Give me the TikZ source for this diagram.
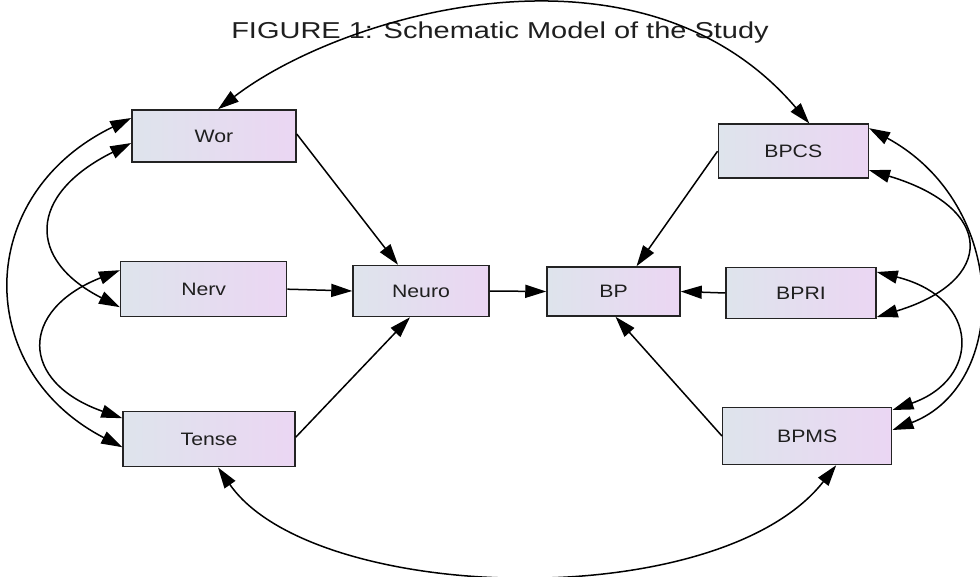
\documentclass[tikz,border=0pt]{standalone}
\usepackage{fontspec}
\setmainfont{Liberation Sans}
\usepackage{graphicx}
\usetikzlibrary{arrows.meta}
\definecolor{boxl}{RGB}{222,228,236}
\definecolor{boxr}{RGB}{235,214,243}
\definecolor{boxline}{RGB}{35,35,35}
\begin{document}
\begin{tikzpicture}[x=1pt,y=-1pt,
  varbox/.style={draw=boxline, line width=1.5pt, left color=boxl, right color=boxr,
    inner sep=0pt, font=\fontsize{18}{18}\selectfont, text=black!88},
  conn/.style={line width=1.5pt, -{Triangle[length=21pt,width=13pt]}},
  biconn/.style={line width=1.5pt, {Triangle[length=21pt,width=13pt]}-{Triangle[length=21pt,width=13pt]}}]
\useasboundingbox (0,0) rectangle (980,577);
\fill[white] (0,0) rectangle (980,577);

% title
\node[font=\fontsize{23}{23}\selectfont, text=black!88] (title) at (500,33) {\scalebox{1.26}[1]{FIGURE 1: Schematic Model of the Study}};

% variables
\node[varbox, minimum width=164pt, minimum height=52pt] (wor)   at (214,136)   {\scalebox{1.18}[1]{Wor}};
\node[varbox, minimum width=166pt, minimum height=55pt] (nerv)  at (203.7,289.2) {\scalebox{1.18}[1]{Nerv}};
\node[varbox, minimum width=172pt, minimum height=55pt] (tense) at (209,439.2) {\scalebox{1.18}[1]{Tense}};
\node[varbox, minimum width=136pt, minimum height=51pt] (neuro) at (421,291)   {\scalebox{1.18}[1]{Neuro}};
\node[varbox, minimum width=133pt, minimum height=49pt] (bp)    at (613.5,291.5) {\scalebox{1.18}[1]{BP}};
\node[varbox, minimum width=150pt, minimum height=54pt] (bpcs)  at (793.3,151.2) {\scalebox{1.18}[1]{BPCS}};
\node[varbox, minimum width=150pt, minimum height=51pt] (bpri)  at (801,293)   {\scalebox{1.18}[1]{BPRI}};
\node[varbox, minimum width=169pt, minimum height=57pt] (bpms)  at (807.2,436) {\scalebox{1.18}[1]{BPMS}};

% straight paths
\draw[conn] ([yshift=2pt]wor.east) -- ([xshift=-23pt]neuro.north);
\draw[conn] (nerv.east) -- (neuro.west);
\draw[conn] ([yshift=2pt]tense.east) -- ([xshift=-11pt]neuro.south);
\draw[conn] (neuro.east) -- (bp.west);
\draw[conn] (bpri.west) -- (bp.east);
\draw[conn] (bpcs.west) -- ([xshift=23pt]bp.north);
\draw[conn] (bpms.west) -- ([xshift=2pt]bp.south);

% left covariances
\draw[biconn] ([yshift=-7pt]wor.west) .. controls (27,195) and (27,260) .. ([yshift=-18pt]nerv.west);
\draw[biconn] ([yshift=18pt]wor.west) .. controls (-27,195) and (-27,370) .. ([yshift=-8pt]tense.west);
\draw[biconn] ([yshift=19pt]nerv.west) .. controls (19,310) and (19,382) .. ([yshift=21pt]tense.west);

% right covariances
\draw[biconn] ([yshift=-19pt]bpcs.east) .. controls (996,208) and (996,281) .. ([yshift=-24pt]bpri.east);
\draw[biconn] ([yshift=23pt]bpcs.east) .. controls (1010,205) and (1010,385) .. ([yshift=6pt]bpms.east);
\draw[biconn] ([yshift=21pt]bpri.east) .. controls (981,298) and (981,379) .. ([yshift=26pt]bpms.east);

% top and bottom covariances
\draw[biconn] ([xshift=4pt]wor.north) .. controls (340,15) and (640,-75) .. ([xshift=16pt]bpcs.north);
\draw[biconn] ([xshift=9pt]tense.south) .. controls (313,604) and (718,616) .. ([xshift=29pt]bpms.south);
\end{tikzpicture}
\end{document}
